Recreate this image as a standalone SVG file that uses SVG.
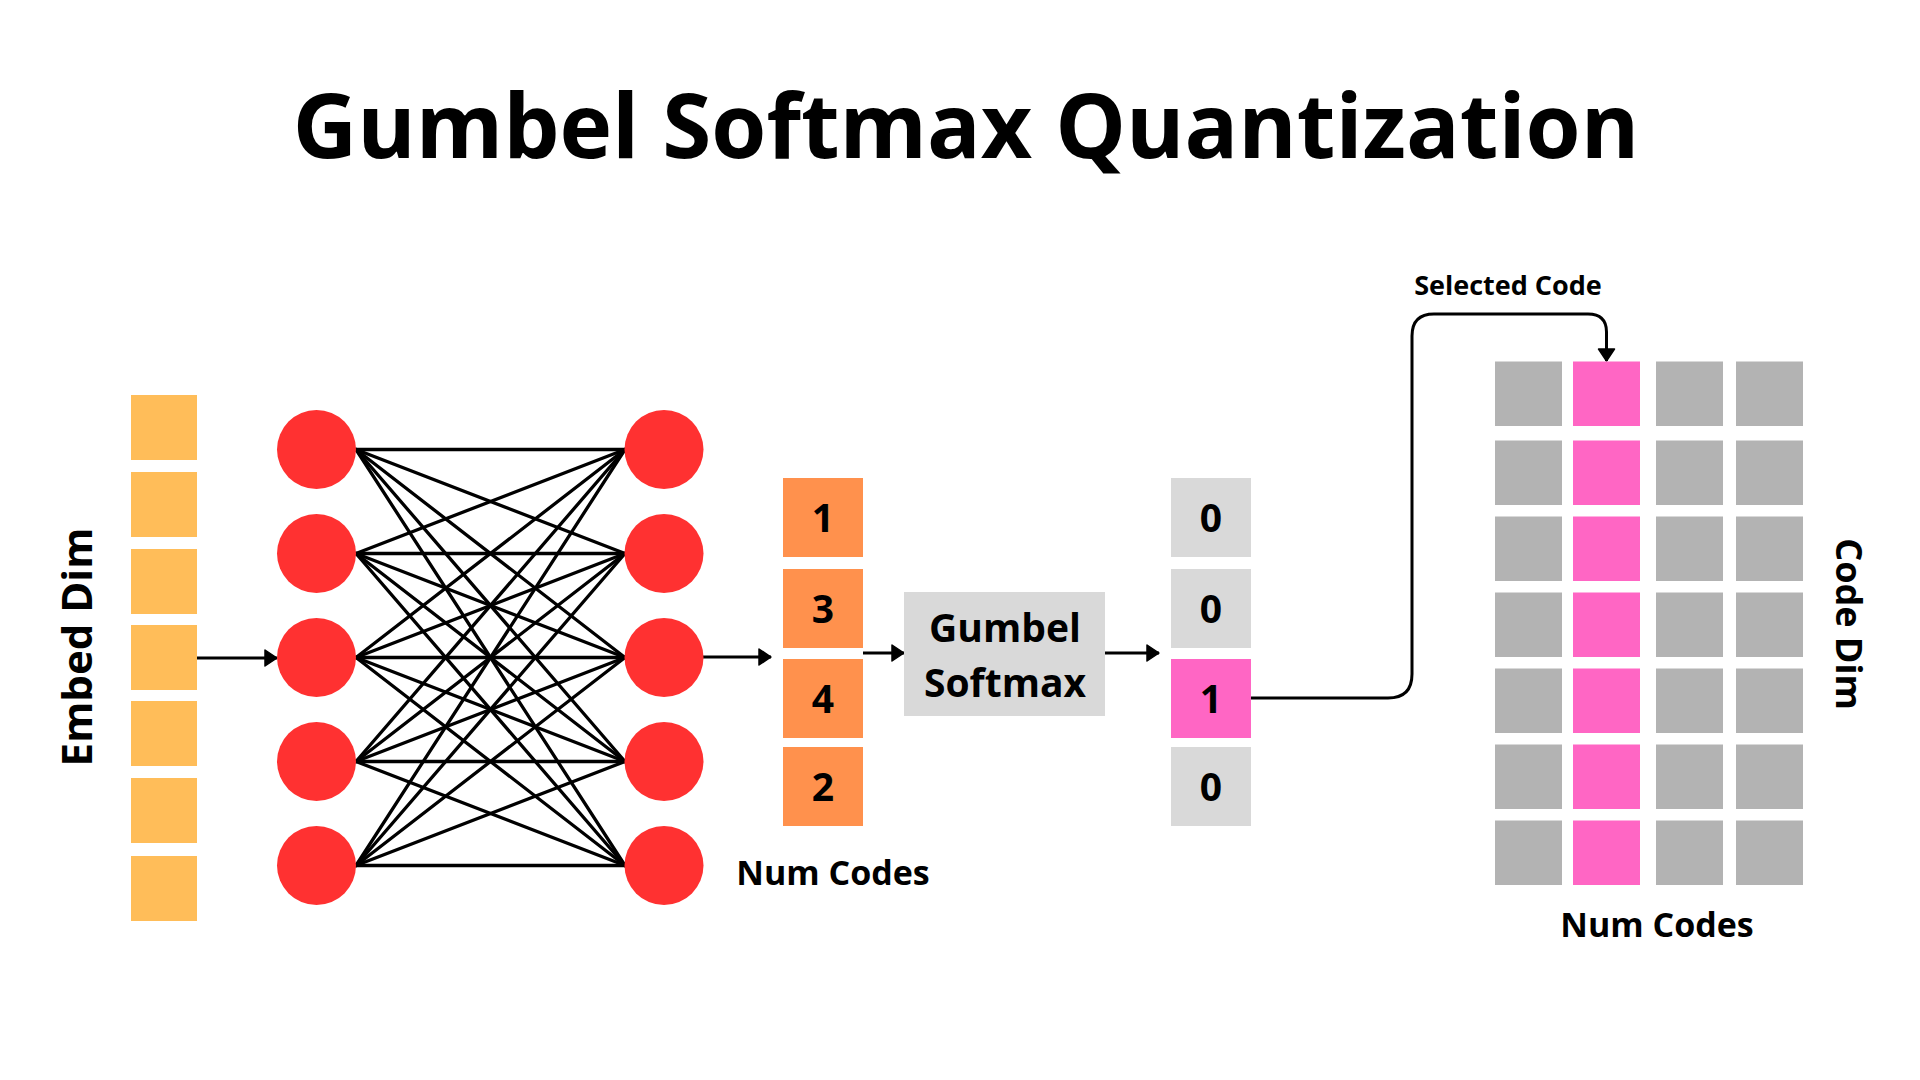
<svg xmlns="http://www.w3.org/2000/svg" width="1920" height="1080" viewBox="0 0 1920 1080">
<style>
  text { font-family: "Open Sans", "Liberation Sans", sans-serif; font-weight: 700; fill: #000; }
  .embed { fill: #ffbd59; }
  .neuron { fill: #ff3131; }
  .logit { fill: #ff914d; }
  .onehot { fill: #d9d9d9; }
  .hot { fill: #ff66c4; }
  .cb { fill: #b3b3b3; }
  .cbsel { fill: #ff66c4; }
  .w { stroke: #000; stroke-width: 3.3; stroke-linecap: round; }
  .arrow { stroke: #000; stroke-width: 3; fill: none; marker-end: url(#ah); }
  .num { font-size: 39px; text-anchor: middle; }
</style>
<defs>
  <marker id="ah" markerUnits="userSpaceOnUse" markerWidth="14" markerHeight="18" refX="12" refY="8" orient="auto" overflow="visible">
    <path d="M0,0 L12,8 L0,16 Z" fill="#000" stroke="#000" stroke-width="1.5" stroke-linejoin="round"/>
  </marker>
</defs>
<rect width="1920" height="1080" fill="#fff"/>

<text id="title" x="966" y="158" font-size="89" text-anchor="middle">Gumbel Softmax Quantization</text>

<g id="embed-vector">
  <rect class="embed" x="131" y="395" width="66" height="65"/>
  <rect class="embed" x="131" y="472" width="66" height="65"/>
  <rect class="embed" x="131" y="549" width="66" height="65"/>
  <rect class="embed" x="131" y="625" width="66" height="65"/>
  <rect class="embed" x="131" y="701" width="66" height="65"/>
  <rect class="embed" x="131" y="778" width="66" height="65"/>
  <rect class="embed" x="131" y="856" width="66" height="65"/>
  <text transform="translate(92,647) rotate(-90)" font-size="42" text-anchor="middle">Embed Dim</text>
</g>

<g id="connectors">
  <g id="weights">
    <line class="w" x1="356" y1="449.5" x2="625" y2="449.5"/>
    <line class="w" x1="356" y1="449.5" x2="625" y2="553.5"/>
    <line class="w" x1="356" y1="449.5" x2="625" y2="657.5"/>
    <line class="w" x1="356" y1="449.5" x2="625" y2="761.5"/>
    <line class="w" x1="356" y1="449.5" x2="625" y2="865.5"/>
    <line class="w" x1="356" y1="553.5" x2="625" y2="449.5"/>
    <line class="w" x1="356" y1="553.5" x2="625" y2="553.5"/>
    <line class="w" x1="356" y1="553.5" x2="625" y2="657.5"/>
    <line class="w" x1="356" y1="553.5" x2="625" y2="761.5"/>
    <line class="w" x1="356" y1="553.5" x2="625" y2="865.5"/>
    <line class="w" x1="356" y1="657.5" x2="625" y2="449.5"/>
    <line class="w" x1="356" y1="657.5" x2="625" y2="553.5"/>
    <line class="w" x1="356" y1="657.5" x2="625" y2="657.5"/>
    <line class="w" x1="356" y1="657.5" x2="625" y2="761.5"/>
    <line class="w" x1="356" y1="657.5" x2="625" y2="865.5"/>
    <line class="w" x1="356" y1="761.5" x2="625" y2="449.5"/>
    <line class="w" x1="356" y1="761.5" x2="625" y2="553.5"/>
    <line class="w" x1="356" y1="761.5" x2="625" y2="657.5"/>
    <line class="w" x1="356" y1="761.5" x2="625" y2="761.5"/>
    <line class="w" x1="356" y1="761.5" x2="625" y2="865.5"/>
    <line class="w" x1="356" y1="865.5" x2="625" y2="449.5"/>
    <line class="w" x1="356" y1="865.5" x2="625" y2="553.5"/>
    <line class="w" x1="356" y1="865.5" x2="625" y2="657.5"/>
    <line class="w" x1="356" y1="865.5" x2="625" y2="761.5"/>
    <line class="w" x1="356" y1="865.5" x2="625" y2="865.5"/>
  </g>
  <path class="arrow" d="M197,658 H277"/>
  <path class="arrow" d="M703,657 H771"/>
  <path class="arrow" d="M863,653 H904"/>
  <path class="arrow" d="M1105,653 H1159"/>
  <path class="arrow" d="M1251,698 H1388 Q1412,698 1412,674 V336 Q1412,314 1434,314 H1588 Q1606.5,314 1606.5,332 V361"/>
</g>

<g id="input-layer">
  <circle class="neuron" cx="316.5" cy="449.5" r="39.5"/>
  <circle class="neuron" cx="316.5" cy="553.5" r="39.5"/>
  <circle class="neuron" cx="316.5" cy="657.5" r="39.5"/>
  <circle class="neuron" cx="316.5" cy="761.5" r="39.5"/>
  <circle class="neuron" cx="316.5" cy="865.5" r="39.5"/>
</g>
<g id="output-layer">
  <circle class="neuron" cx="664" cy="449.5" r="39.5"/>
  <circle class="neuron" cx="664" cy="553.5" r="39.5"/>
  <circle class="neuron" cx="664" cy="657.5" r="39.5"/>
  <circle class="neuron" cx="664" cy="761.5" r="39.5"/>
  <circle class="neuron" cx="664" cy="865.5" r="39.5"/>
</g>

<g id="logits">
  <rect class="logit" x="783" y="478" width="80" height="79"/>
  <rect class="logit" x="783" y="569" width="80" height="79"/>
  <rect class="logit" x="783" y="659" width="80" height="79"/>
  <rect class="logit" x="783" y="747" width="80" height="79"/>
  <text class="num" x="823" y="532">1</text>
  <text class="num" x="823" y="623">3</text>
  <text class="num" x="823" y="713">4</text>
  <text class="num" x="823" y="801">2</text>
  <text x="833" y="885" font-size="34" text-anchor="middle">Num Codes</text>
</g>

<g id="gumbel-softmax">
  <rect x="904" y="592" width="201" height="124" fill="#d9d9d9"/>
  <text x="1005" y="642" font-size="39" text-anchor="middle">Gumbel</text>
  <text x="1005" y="697" font-size="39" text-anchor="middle">Softmax</text>
</g>

<g id="one-hot">
  <rect class="onehot" x="1171" y="478" width="80" height="79"/>
  <rect class="onehot" x="1171" y="569" width="80" height="79"/>
  <rect class="hot" x="1171" y="659" width="80" height="79"/>
  <rect class="onehot" x="1171" y="747" width="80" height="79"/>
  <text class="num" x="1211" y="532">0</text>
  <text class="num" x="1211" y="623">0</text>
  <text class="num" x="1211" y="713">1</text>
  <text class="num" x="1211" y="801">0</text>
</g>

<text id="selected-code-label" x="1508" y="295" font-size="27" text-anchor="middle">Selected Code</text>

<g id="codebook">
  <g>
    <rect class="cb" x="1495" y="361.5" width="67" height="64.5"/>
    <rect class="cb" x="1495" y="440.5" width="67" height="64.5"/>
    <rect class="cb" x="1495" y="516.5" width="67" height="64.5"/>
    <rect class="cb" x="1495" y="592.5" width="67" height="64.5"/>
    <rect class="cb" x="1495" y="668.5" width="67" height="64.5"/>
    <rect class="cb" x="1495" y="744.5" width="67" height="64.5"/>
    <rect class="cb" x="1495" y="820.5" width="67" height="64.5"/>
  </g>
  <g>
    <rect class="cbsel" x="1573" y="361.5" width="67" height="64.5"/>
    <rect class="cbsel" x="1573" y="440.5" width="67" height="64.5"/>
    <rect class="cbsel" x="1573" y="516.5" width="67" height="64.5"/>
    <rect class="cbsel" x="1573" y="592.5" width="67" height="64.5"/>
    <rect class="cbsel" x="1573" y="668.5" width="67" height="64.5"/>
    <rect class="cbsel" x="1573" y="744.5" width="67" height="64.5"/>
    <rect class="cbsel" x="1573" y="820.5" width="67" height="64.5"/>
  </g>
  <g>
    <rect class="cb" x="1656" y="361.5" width="67" height="64.5"/>
    <rect class="cb" x="1656" y="440.5" width="67" height="64.5"/>
    <rect class="cb" x="1656" y="516.5" width="67" height="64.5"/>
    <rect class="cb" x="1656" y="592.5" width="67" height="64.5"/>
    <rect class="cb" x="1656" y="668.5" width="67" height="64.5"/>
    <rect class="cb" x="1656" y="744.5" width="67" height="64.5"/>
    <rect class="cb" x="1656" y="820.5" width="67" height="64.5"/>
  </g>
  <g>
    <rect class="cb" x="1736" y="361.5" width="67" height="64.5"/>
    <rect class="cb" x="1736" y="440.5" width="67" height="64.5"/>
    <rect class="cb" x="1736" y="516.5" width="67" height="64.5"/>
    <rect class="cb" x="1736" y="592.5" width="67" height="64.5"/>
    <rect class="cb" x="1736" y="668.5" width="67" height="64.5"/>
    <rect class="cb" x="1736" y="744.5" width="67" height="64.5"/>
    <rect class="cb" x="1736" y="820.5" width="67" height="64.5"/>
  </g>
  <text transform="translate(1836,624) rotate(90)" font-size="36" text-anchor="middle">Code Dim</text>
  <text x="1657" y="937" font-size="34" text-anchor="middle">Num Codes</text>
</g>
</svg>
